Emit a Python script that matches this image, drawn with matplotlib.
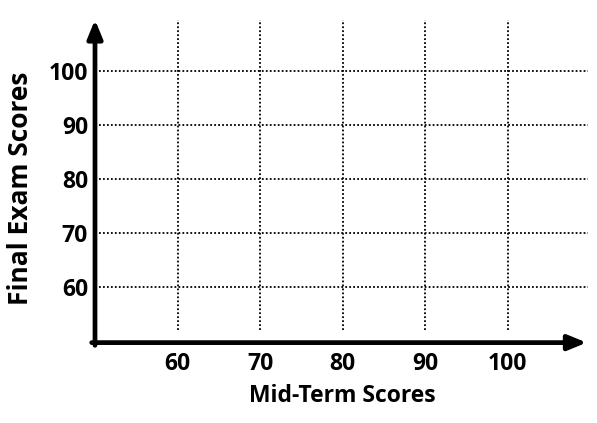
import matplotlib.pyplot as plt

# grid / tick values
x_ticks = [60, 70, 80, 90, 100]
y_ticks = [60, 70, 80, 90, 100]
x_label = "Mid-Term Scores"
y_label = "Final Exam Scores"

plt.rcParams.update({
    "font.family": ["Open Sans", "DejaVu Sans"],
    "font.weight": "bold",
    "axes.labelweight": "bold",
})

fig = plt.figure(figsize=(5.97, 4.23), dpi=100)
ax = fig.add_axes([95 / 597, 82 / 423, (590 - 95) / 597, (341 - 17) / 423])
ax.set_xlim(50, 110)
ax.set_ylim(50, 110)

for s in ax.spines.values():
    s.set_visible(False)

dots = (0, (1, 1.2))
ax.vlines(x_ticks, 52, 109.4, colors="black", lw=1.3, linestyles=[dots])
ax.hlines(y_ticks, 50.5, 109.8, colors="black", lw=1.3, linestyles=[dots])

# axes drawn as thick arrows
arrow = dict(arrowstyle="-|>,head_length=1.1,head_width=0.45", lw=3.4,
             color="black", shrinkA=0, shrinkB=0)
ax.annotate("", xy=(109.6, 49.7), xytext=(49.6, 49.7), arrowprops=arrow,
            annotation_clip=False)
ax.annotate("", xy=(50, 109.5), xytext=(50, 49.2), arrowprops=arrow,
            annotation_clip=False)

ax.set_xticks(x_ticks)
ax.set_yticks(y_ticks)
ax.tick_params(length=0, labelsize=16.5)
ax.tick_params(axis="x", pad=8)
ax.tick_params(axis="y", pad=5)

ax.set_xlabel(x_label, fontsize=16.5, labelpad=6)
ax.set_ylabel(y_label, fontsize=19, labelpad=8)
ax.yaxis.set_label_coords(-0.124, 0.47)

fig.savefig("out.png", dpi=100)
